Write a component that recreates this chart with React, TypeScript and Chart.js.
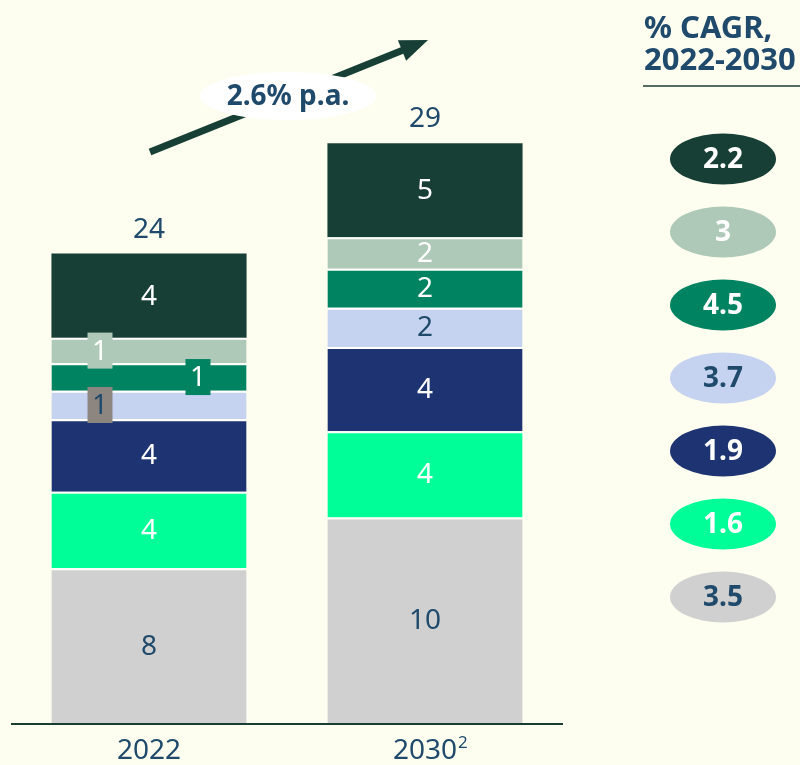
import { useEffect, useRef } from "react";
import { Chart, registerables } from "chart.js";
Chart.register(...registerables);

// ---- data ----
const years = ["2022", "2030"];
const yearSuperscripts = ["", "2"];
const greySeg = [7.9, 10.48];
const brightGreenSeg = [3.9, 4.4];
const navySeg = [3.7, 4.3];
const lightBlueSeg = [1.45, 2.0];
const tealSeg = [1.4, 2.0];
const sageSeg = [1.3, 1.6];
const darkGreenSeg = [4.3, 4.8];
const totals = [24, 29];
// CAGR by segment, bottom to top of the stack
const cagrValues = [3.5, 1.6, 1.9, 3.7, 4.5, 3, 2.2];
const growthLabel = "2.6% p.a.";
const cagrTitle = ["% CAGR,", "2022-2030"];

// ---- styles ----
const BG = "#fdfdf0";
const TEXT = "#1f4a6b";
const FONT = "'Noto Sans', 'DejaVu Sans', sans-serif";
const series = [
  { name: "grey", data: greySeg, color: "#d0d0d0", text: TEXT },
  { name: "brightGreen", data: brightGreenSeg, color: "#00fe98", text: "#ffffff" },
  { name: "navy", data: navySeg, color: "#1e3472", text: "#ffffff" },
  { name: "lightBlue", data: lightBlueSeg, color: "#c5d2f0", text: TEXT },
  { name: "teal", data: tealSeg, color: "#008360", text: "#ffffff" },
  { name: "sage", data: sageSeg, color: "#aec9b7", text: "#ffffff" },
  { name: "darkGreen", data: darkGreenSeg, color: "#173f35", text: "#ffffff" },
];
// boxed labels for thin segments of the first bar: dx offset, box colour, text colour
const boxedLabels: Record<string, { dx: number; bg: string; fg: string }> = {
  lightBlue: { dx: -49, bg: "#8d8680", fg: TEXT },
  teal: { dx: 49, bg: "#008360", fg: "#ffffff" },
  sage: { dx: -49, bg: "#aec9b7", fg: "#ffffff" },
};

const overlayPlugin = {
  id: "overlay",
  beforeDraw(chart: any) {
    const ctx = chart.ctx;
    ctx.save();
    ctx.fillStyle = BG;
    ctx.fillRect(0, 0, chart.width, chart.height);
    ctx.restore();
  },
  afterDatasetsDraw(chart: any) {
    const ctx = chart.ctx;
    const area = chart.chartArea;
    const xScale = chart.scales.x;
    ctx.save();
    ctx.textAlign = "center";
    ctx.textBaseline = "middle";

    // segment labels
    series.forEach((s, di) => {
      const meta = chart.getDatasetMeta(di);
      meta.data.forEach((el: any, j: number) => {
        const cy = (el.y + el.base) / 2;
        const label = String(Math.round(s.data[j]));
        const boxed = j === 0 ? boxedLabels[s.name] : undefined;
        ctx.font = `28px ${FONT}`;
        if (boxed) {
          const bx = el.x + boxed.dx;
          ctx.fillStyle = boxed.bg;
          ctx.fillRect(bx - 12.5, cy - 18, 25, 36);
          ctx.fillStyle = boxed.fg;
          ctx.fillText(label, bx, cy + 1);
        } else {
          ctx.fillStyle = s.text;
          ctx.fillText(label, el.x, cy + 1);
        }
      });
    });

    // totals
    const topMeta = chart.getDatasetMeta(series.length - 1);
    topMeta.data.forEach((el: any, j: number) => {
      ctx.font = `28px ${FONT}`;
      ctx.fillStyle = TEXT;
      ctx.fillText(String(totals[j]), el.x, el.y - 24);
    });

    // axis line
    ctx.strokeStyle = "#1a3d33";
    ctx.lineWidth = 2;
    ctx.beginPath();
    ctx.moveTo(area.left, area.bottom + 1);
    ctx.lineTo(area.right, area.bottom + 1);
    ctx.stroke();

    // x labels
    years.forEach((y, j) => {
      const x = xScale.getPixelForValue(j);
      ctx.font = `28px ${FONT}`;
      ctx.fillStyle = TEXT;
      ctx.textAlign = "center";
      ctx.fillText(y, x, area.bottom + 28);
      if (yearSuperscripts[j]) {
        const w = ctx.measureText(y).width;
        ctx.font = `17px ${FONT}`;
        ctx.textAlign = "left";
        ctx.fillText(yearSuperscripts[j], x + w / 2 + 1, area.bottom + 20);
        ctx.textAlign = "center";
      }
    });

    // growth arrow
    const sx = 150, sy = 152, tx = 428, ty = 40;
    const len = Math.hypot(tx - sx, ty - sy);
    const ux = (tx - sx) / len, uy = (ty - sy) / len;
    const hl = 28, hw = 11;
    const bx = tx - ux * hl, by = ty - uy * hl;
    ctx.strokeStyle = "#173f35";
    ctx.fillStyle = "#173f35";
    ctx.lineWidth = 7;
    ctx.beginPath();
    ctx.moveTo(sx, sy);
    ctx.lineTo(bx + ux * 2, by + uy * 2);
    ctx.stroke();
    ctx.beginPath();
    ctx.moveTo(tx, ty);
    ctx.lineTo(bx - uy * hw, by + ux * hw);
    ctx.lineTo(bx + uy * hw, by - ux * hw);
    ctx.closePath();
    ctx.fill();

    // growth label ellipse
    ctx.fillStyle = "#ffffff";
    ctx.beginPath();
    ctx.ellipse(288, 96, 88, 24, 0, 0, Math.PI * 2);
    ctx.fill();
    ctx.fillStyle = TEXT;
    ctx.font = `bold 28px ${FONT}`;
    ctx.fillText(growthLabel, 288, 97);

    // CAGR header
    ctx.textAlign = "left";
    ctx.textBaseline = "alphabetic";
    ctx.font = `bold 31px ${FONT}`;
    ctx.fillStyle = TEXT;
    ctx.fillText(cagrTitle[0], 644, 38);
    ctx.fillText(cagrTitle[1], 644, 70);
    ctx.strokeStyle = "#1a3d33";
    ctx.lineWidth = 1.5;
    ctx.beginPath();
    ctx.moveTo(643, 86);
    ctx.lineTo(800, 86);
    ctx.stroke();

    // CAGR ellipses (top to bottom = top of stack to bottom)
    ctx.textAlign = "center";
    ctx.textBaseline = "middle";
    for (let k = 0; k < series.length; k++) {
      const si = series.length - 1 - k;
      const cy = 159 + k * 73;
      ctx.fillStyle = series[si].color;
      ctx.beginPath();
      ctx.ellipse(723, cy, 53, 25.5, 0, 0, Math.PI * 2);
      ctx.fill();
      ctx.fillStyle = series[si].text;
      ctx.font = `bold 28px ${FONT}`;
      ctx.fillText(String(cagrValues[si]), 723, cy + 1);
    }
    ctx.restore();
  },
};

export default function App() {
  const ref = useRef<HTMLCanvasElement>(null);
  useEffect(() => {
    document.body.style.margin = "0";
    document.body.style.background = BG;
    const canvas = ref.current!;
    const chart = new Chart(canvas, {
      type: "bar",
      data: {
        labels: years,
        datasets: series.map((s, i) => ({
          label: s.name,
          data: s.data,
          backgroundColor: s.color,
          borderColor: "#ffffff",
          borderWidth: i === series.length - 1 ? 0 : { top: 2, bottom: 0, left: 0, right: 0 },
          borderSkipped: false,
          categoryPercentage: 1,
          barPercentage: 0.707,
        })),
      },
      options: {
        animation: false,
        responsive: false,
        maintainAspectRatio: false,
        devicePixelRatio: 1,
        layout: { padding: { left: 11, right: 237, top: 37, bottom: 42 } },
        plugins: { legend: { display: false }, tooltip: { enabled: false } },
        scales: {
          x: { stacked: true, display: false },
          y: { stacked: true, display: false, min: 0, max: 35 },
        },
      },
      plugins: [overlayPlugin],
    } as any);
    return () => chart.destroy();
  }, []);
  return (
    <div style={{ width: 800, height: 765, background: BG }}>
      <canvas ref={ref} width={800} height={765} style={{ display: "block" }} />
    </div>
  );
}
